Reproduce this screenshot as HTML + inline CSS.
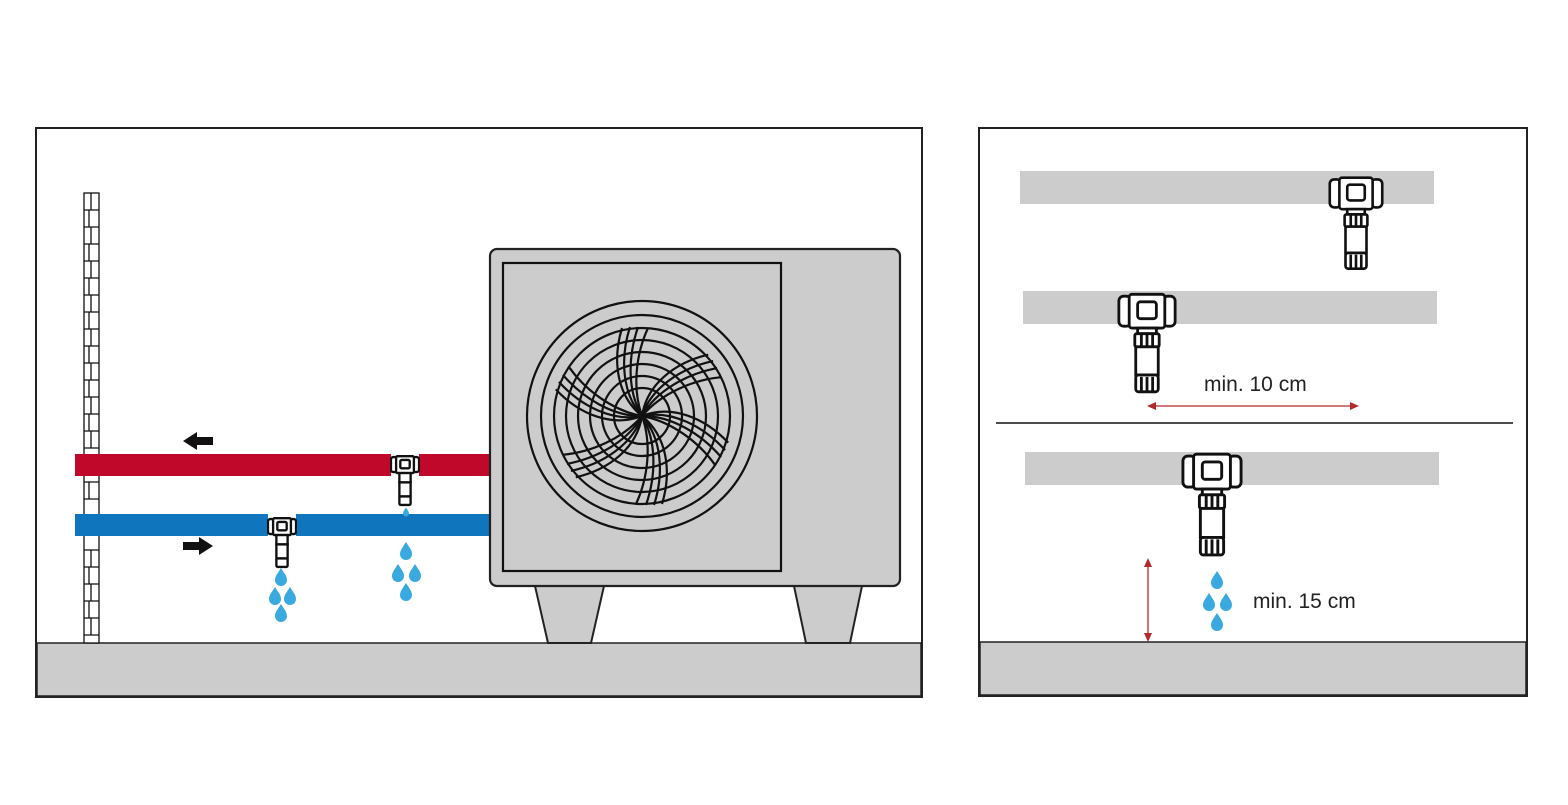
<!DOCTYPE html>
<html><head><style>body{margin:0;background:#fff}svg{display:block}</style></head><body>
<svg width="1568" height="805" viewBox="0 0 1568 805" xmlns="http://www.w3.org/2000/svg">
<defs>
<symbol id="v" viewBox="-2 -2 64 110">
<g fill="#fff" stroke="#111" stroke-width="3">
<rect x="0" y="2" width="13" height="32" rx="5"/><rect x="47" y="2" width="13" height="32" rx="5"/>
<rect x="11" y="0" width="38" height="36" rx="3"/><rect x="20" y="8" width="20" height="18" rx="3"/>
<rect x="20" y="36" width="20" height="6"/><rect x="17" y="42" width="26" height="14" rx="2"/>
<rect x="18" y="56" width="24" height="30"/><rect x="18" y="86" width="24" height="18" rx="3"/>
<path d="M24 43v12M30 43v12M36 43v12M24 88v15M30 88v15M36 88v15"/>
</g></symbol>
<symbol id="vs" viewBox="-2 -2 64 110">
<g fill="#fff" stroke="#111" stroke-width="5">
<rect x="0" y="2" width="13" height="32" rx="5"/><rect x="47" y="2" width="13" height="32" rx="5"/>
<rect x="11" y="0" width="38" height="36" rx="3"/><rect x="20" y="8" width="20" height="18" rx="3"/>
<rect x="18" y="36" width="24" height="20"/>
<rect x="18" y="56" width="24" height="30"/><rect x="18" y="86" width="24" height="18" rx="3"/>
</g></symbol>
<path id="d" d="M0 -9 C3 -4 6 -1 6 3 A6 6 0 0 1 -6 3 C-6 -1 -3 -4 0 -9Z" fill="#3aa9e0"/>
<g id="blade" fill="none" stroke="#111" stroke-width="2.2">
<path d="M0 0 C-25 -20 -30 -55 -20 -88"/><path d="M0 0 C-20 -22 -22 -58 -12 -89"/>
<path d="M0 0 C-15 -25 -14 -60 -4 -89"/><path d="M0 0 C-10 -28 -6 -62 6 -88"/>
</g>
</defs>
<rect x="36" y="128" width="886" height="569" fill="#fff" stroke="#222" stroke-width="2"/>
<rect x="37" y="643" width="884" height="53" fill="#ccc" stroke="#222" stroke-width="1.5"/>
<g stroke="#111" stroke-width="1.3" fill="#fff">
<rect x="84" y="193" width="15" height="450"/>
<path d="M84 210h15M84 227h15M84 244h15M84 261h15M84 278h15M84 295h15M84 312h15M84 329h15M84 346h15M84 363h15M84 380h15M84 397h15M84 414h15M84 431h15M84 448h15M84 482h15M84 499h15M84 550h15M84 567h15M84 584h15M84 601h15M84 618h15M84 635h15"/>
<path d="M91 193v17M89 210v17M91 227v17M89 244v17M91 261v17M89 278v17M91 295v17M89 312v17M91 329v17M89 346v17M91 363v17M89 380v17M91 397v17M89 414v17M91 431v17M89 482v17M91 550v17M89 567v17M91 584v17M89 601v17M91 618v17"/>
</g>
<rect x="75" y="454" width="316" height="22" fill="#c0092a"/>
<rect x="419" y="454" width="71" height="22" fill="#c0092a"/>
<rect x="75" y="514" width="193" height="22" fill="#0f75bc"/>
<rect x="296" y="514" width="194" height="22" fill="#0f75bc"/>
<use href="#vs" x="390" y="455" width="30" height="52"/>
<use href="#vs" x="267" y="517" width="30" height="52"/>
<path d="M213 437h-16v-5l-14 9 14 9v-5h16z" fill="#111"/>
<path d="M183 542h16v-5l14 9-14 9v-5h-16z" fill="#111"/>
<use href="#d" transform="translate(406 512) scale(.5)"/>
<use href="#d" x="406" y="551"/><use href="#d" x="398" y="573"/><use href="#d" x="415" y="573"/><use href="#d" x="406" y="592"/>
<use href="#d" x="281" y="577"/><use href="#d" x="275" y="596"/><use href="#d" x="290" y="596"/><use href="#d" x="281" y="613"/>
<path d="M535 586h69l-13 57h-43z M794 586h68l-12 57h-44z" fill="#ccc" stroke="#222" stroke-width="2"/>
<rect x="490" y="249" width="410" height="337" rx="7" fill="#ccc" stroke="#222" stroke-width="2.2"/>
<rect x="503" y="263" width="278" height="308" fill="#ccc" stroke="#111" stroke-width="2.2"/>
<g fill="none" stroke="#111" stroke-width="2.2">
<circle cx="642" cy="416" r="115"/><circle cx="642" cy="416" r="101"/><circle cx="642" cy="416" r="88"/>
<circle cx="642" cy="416" r="76"/><circle cx="642" cy="416" r="64"/><circle cx="642" cy="416" r="52"/>
<circle cx="642" cy="416" r="40"/><circle cx="642" cy="416" r="28"/>
</g>
<g transform="translate(642 416)">
<use href="#blade"/><use href="#blade" transform="rotate(60)"/><use href="#blade" transform="rotate(120)"/>
<use href="#blade" transform="rotate(180)"/><use href="#blade" transform="rotate(240)"/><use href="#blade" transform="rotate(300)"/>
</g>
<rect x="979" y="128" width="548" height="568" fill="#fff" stroke="#222" stroke-width="2"/>
<rect x="980" y="642" width="546" height="53" fill="#ccc" stroke="#222" stroke-width="1.5"/>
<rect x="1020" y="171" width="414" height="33" fill="#ccc"/>
<rect x="1023" y="291" width="414" height="33" fill="#ccc"/>
<rect x="1025" y="452" width="414" height="33" fill="#ccc"/>
<line x1="996" y1="423" x2="1513" y2="423" stroke="#111" stroke-width="1.5"/>
<use href="#v" x="1328" y="171" width="56" height="106"/>
<use href="#v" x="1117" y="291" width="60" height="106"/>
<use href="#v" x="1181" y="451" width="62" height="109"/>
<g fill="#b22a2a" stroke="#b22a2a" stroke-width="1.3">
<line x1="1154" y1="406" x2="1352" y2="406"/><path d="M1147 406l9-4v8z M1359 406l-9-4v8z" stroke="none"/>
<line x1="1148" y1="565" x2="1148" y2="635"/><path d="M1148 558l-4 9h8z M1148 642l-4-9h8z" stroke="none"/>
</g>
<use href="#d" x="1217" y="580"/><use href="#d" x="1209" y="602"/><use href="#d" x="1226" y="602"/><use href="#d" x="1217" y="622"/>
<g font-family="Liberation Sans, sans-serif" font-size="21" fill="#222">
<text x="1204" y="391">min. 10 cm</text>
<text x="1253" y="608">min. 15 cm</text>
</g>
</svg>
</body></html>
